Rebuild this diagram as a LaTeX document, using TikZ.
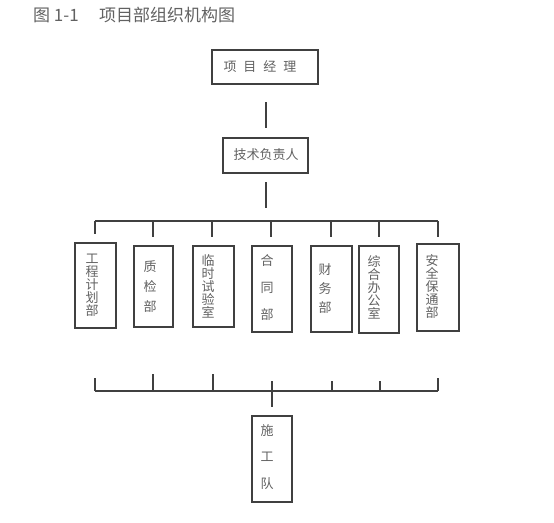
\documentclass[tikz,border=0pt]{standalone}
\usepackage{fontspec}
\setmainfont{Noto Sans CJK SC}
\definecolor{txtgray}{gray}{0.38}
\definecolor{linegray}{gray}{0.25}
\tikzset{
  box/.style={draw=linegray, line width=1.3pt, inner sep=0pt},
  conn/.style={draw=linegray, line width=1.2pt},
  lbl/.style={text=txtgray, inner sep=0pt, align=center},
}
\newcommand{\vt}[1]{\fontsize{13}{#1}\selectfont}
\begin{document}
\begin{tikzpicture}[x=1pt,y=-1pt]
\useasboundingbox (0,0) rectangle (554,522);
% title
\node[lbl, anchor=west, font=\fontsize{17}{17}\selectfont] (title) at (33,15.5) {图 1-1\hspace{1.2em}项目部组织机构图};
% boxes
\node[box, minimum width=106pt, minimum height=34pt] (pm) at (265,67) {};
\node[box, minimum width=85pt, minimum height=35pt] (tech) at (265.5,155.5) {};
\node[box, minimum width=41pt, minimum height=85pt] (b1) at (95.5,285.5) {};
\node[box, minimum width=39pt, minimum height=81pt] (b2) at (153.5,286.5) {};
\node[box, minimum width=41pt, minimum height=81pt] (b3) at (213.5,286.5) {};
\node[box, minimum width=40pt, minimum height=86pt] (b4) at (272,289) {};
\node[box, minimum width=41pt, minimum height=86pt] (b5) at (331.5,289) {};
\node[box, minimum width=40pt, minimum height=87pt] (b6) at (379,289.5) {};
\node[box, minimum width=42pt, minimum height=87pt] (b7) at (438,287.5) {};
\node[box, minimum width=40pt, minimum height=86pt] (b8) at (272,459) {};
% texts
\node[lbl, font=\vt{13}] (tpm) at (260,67) {项\hspace{7pt}目\hspace{7pt}经\hspace{7pt}理};
\node[lbl, font=\vt{13}] (ttech) at (266,155) {技术负责人};
\node[lbl, font=\vt{13}] (t1) at (92,285.5) {工\\程\\计\\划\\部};
\node[lbl, font=\vt{20}] (t2) at (150,287) {质\\检\\部};
\node[lbl, font=\vt{13}] (t3) at (208,286) {临\\时\\试\\验\\室};
\node[lbl, font=\vt{27}] (t4) at (267,288) {合\\同\\部};
\node[lbl, font=\vt{19}] (t5) at (325,289) {财\\务\\部};
\node[lbl, font=\vt{13}] (t6) at (374,287.5) {综\\合\\办\\公\\室};
\node[lbl, font=\vt{13}] (t7) at (432,286.5) {安\\全\\保\\通\\部};
\node[lbl, font=\vt{26.5}] (t8) at (267,457) {施\\工\\队};
% connectors top
\coordinate (c1a) at (266,102); \coordinate (c1b) at (266,128);
\draw[conn] (c1a) -- (c1b);
\coordinate (c2a) at (266,182); \coordinate (c2b) at (266,208);
\draw[conn] (c2a) -- (c2b);
\coordinate (hl) at (95,221); \coordinate (hr) at (438,221);
\draw[conn] (hl) -- (hr);
\foreach \x/\e [count=\i] in {95/234,153/237,212/237,271/237,331/237,379/237,438/237}{
  \coordinate (ta\i) at (\x,221); \coordinate (tb\i) at (\x,\e);
  \draw[conn] (ta\i) -- (tb\i);
}
% bottom bus
\coordinate (bl) at (95,391); \coordinate (br) at (438,391);
\draw[conn] (bl) -- (br);
\foreach \x/\e [count=\i] in {95/378,153/374,213/374,272/381,332/381,380/381,438/378}{
  \coordinate (ba\i) at (\x,391); \coordinate (bb\i) at (\x,\e);
  \draw[conn] (ba\i) -- (bb\i);
}
\coordinate (dn) at (272,407);
\draw[conn] (ba4) -- (dn);
\end{tikzpicture}
\end{document}
